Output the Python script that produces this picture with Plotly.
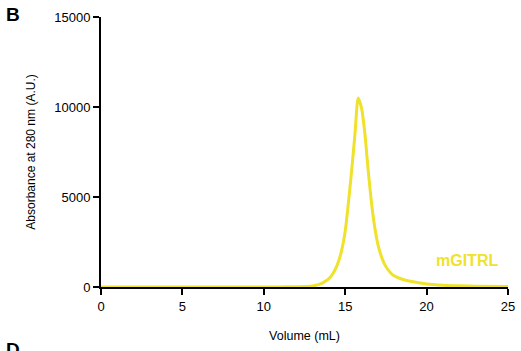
import plotly.graph_objects as go

volume = [0, 2, 5, 8, 10, 11, 12, 12.5,
          13.0, 13.2, 13.4, 13.6, 13.8, 14.0, 14.2, 14.4, 14.6, 14.8,
          15.0, 15.2, 15.4, 15.6, 15.8, 16.0, 16.2, 16.4, 16.6, 16.8,
          17.0, 17.2, 17.4, 17.6, 17.8, 18.0,
          18.5, 19, 20, 21, 22, 23, 25]
absorb = [0, 0, 0, 0, 0, 5, 15, 30,
          60, 95, 150, 220, 330, 470, 680, 1000, 1450, 2100,
          3100, 4700, 6500, 8500, 10500, 9950, 8600, 6600, 4800, 3400,
          2400, 1750, 1300, 1000, 780, 620,
          430, 320, 170, 100, 65, 45, 30]

x_ticks = [0, 5, 10, 15, 20, 25]
y_ticks = [0, 5000, 10000, 15000]
y_labels = ["0", "5000", "10000", "15000"]
color = "#EFE22B"
font = "Liberation Sans, Arial, Helvetica, sans-serif"

W, H = 521, 351
l, r, t, b = 101, 13, 17, 64
pw, ph = W - l - r, H - t - b

def px(xp):
    return (xp - l) / pw

def py(yp):
    return (H - b - yp) / ph

fig = go.Figure()
fig.add_trace(go.Scatter(x=volume, y=absorb, mode="lines",
                         line=dict(color=color, width=3, shape="spline", smoothing=0.7),
                         showlegend=False, cliponaxis=False))

fig.update_layout(
    width=W, height=H,
    margin=dict(l=l, r=r, t=t, b=b),
    plot_bgcolor="white", paper_bgcolor="white",
    font=dict(family=font, size=13, color="black"),
    xaxis=dict(range=[0, 25], tickvals=x_ticks, ticks="outside", ticklen=6, tickwidth=2,
               tickcolor="black", showline=True, linecolor="black", linewidth=2,
               showgrid=False, zeroline=False, tickfont=dict(size=13), automargin=False,
               title=dict(text="Volume (mL)", font=dict(size=12.5), standoff=19)),
    yaxis=dict(range=[0, 15000], tickvals=y_ticks, ticktext=y_labels, ticks="outside",
               ticklen=6, tickwidth=2, tickcolor="black", showline=True, linecolor="black",
               linewidth=2, showgrid=False, zeroline=False, tickfont=dict(size=13),
               automargin=False,
               title=dict(text="Absorbance at 280 nm (A.U.)", font=dict(size=12), standoff=16)),
    annotations=[
        dict(text="<b>mGITRL</b>", x=px(467), y=py(260), xref="paper", yref="paper",
             showarrow=False, xanchor="center", yanchor="middle",
             font=dict(size=16, color=color)),
        dict(text="<b>B</b>", x=px(4), y=py(2), xref="paper", yref="paper", showarrow=False,
             xanchor="left", yanchor="top", font=dict(size=19, color="black")),
        dict(text="<b>D</b>", x=px(4), y=py(337), xref="paper", yref="paper", showarrow=False,
             xanchor="left", yanchor="top", font=dict(size=19, color="black")),
    ],
)

fig.write_html("out.html")
